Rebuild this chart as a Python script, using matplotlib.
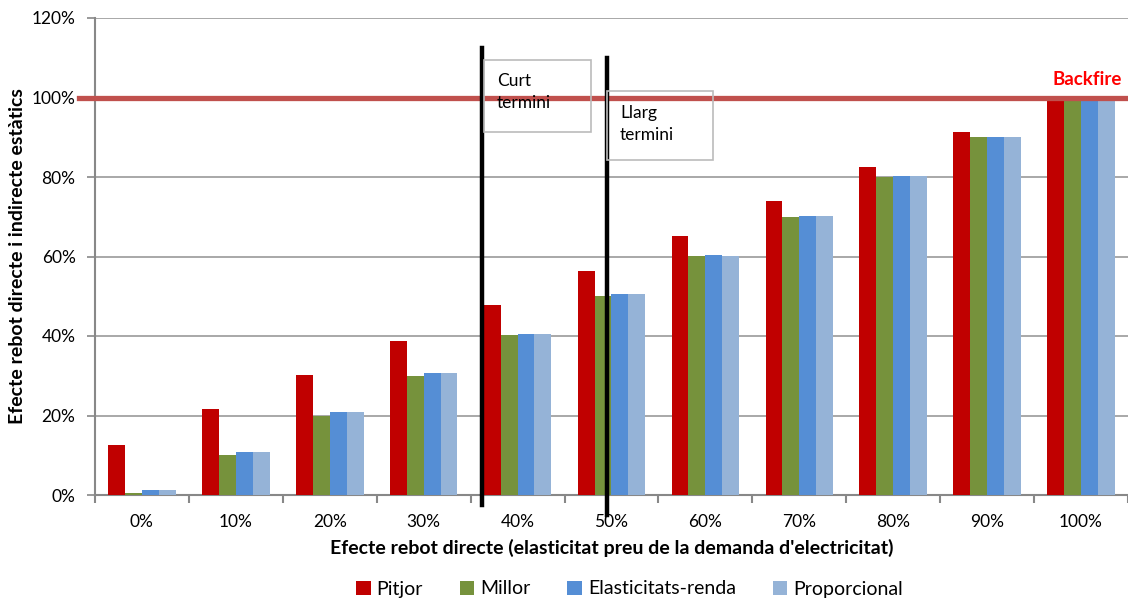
import matplotlib
matplotlib.use("Agg")
import matplotlib.pyplot as plt
from matplotlib.patches import Rectangle
import numpy as np

plt.rcParams['font.family'] = ['Lato', 'DejaVu Sans']

categories = ["0%", "10%", "20%", "30%", "40%", "50%", "60%", "70%", "80%", "90%", "100%"]
series_names = ["Pitjor", "Millor", "Elasticitats-renda", "Proporcional"]
pitjor = [12.6, 21.6, 30.2, 38.7, 47.7, 56.3, 65.2, 73.9, 82.4, 91.4, 100.0]
millor = [0.5, 10.1, 20.0, 30.0, 40.2, 50.0, 60.2, 70.0, 80.0, 90.0, 100.0]
elasticitats = [1.2, 10.9, 20.8, 30.8, 40.5, 50.5, 60.5, 70.2, 80.2, 90.0, 100.0]
proporcional = [1.2, 10.9, 20.8, 30.8, 40.5, 50.5, 60.2, 70.2, 80.2, 90.0, 100.0]
colors = ["#C00000", "#76923C", "#558ED5", "#95B3D7"]

backfire_level = 100
short_term_x = 3.62
long_term_x = 4.95

fig = plt.figure(figsize=(11.28, 6), dpi=100)
ax = fig.add_axes([0.0842, 0.175, 0.9158, 0.795])

x = np.arange(len(categories))
w = 0.18
data = [pitjor, millor, elasticitats, proporcional]
for i, (vals, c, name) in enumerate(zip(data, colors, series_names)):
    ax.bar(x + (i - 1.5) * w, vals, width=w, color=c, label=name, zorder=3)

ax.set_xlim(-0.5, len(categories) - 0.5)
ax.set_ylim(0, 120)
ax.set_yticks(np.arange(0, 121, 20))
ax.set_yticklabels([f"{v}%" for v in range(0, 121, 20)], fontsize=12.5)
ax.set_xticks(x)
ax.set_xticklabels(categories, fontsize=12.5)
ax.set_xticks(np.arange(-0.5, len(categories), 1), minor=True)
ax.tick_params(axis='x', which='major', length=0, pad=14)
ax.tick_params(axis='x', which='minor', length=6, color='#888888', width=1.5)
ax.tick_params(axis='y', length=6, color='#888888', width=1.2, pad=8)
ax.grid(axis='y', color='#999999', linewidth=1.2, zorder=0)
for s in ['top', 'right']:
    ax.spines[s].set_visible(False)
for s in ['left', 'bottom']:
    ax.spines[s].set_color('#888888')
    ax.spines[s].set_linewidth(1.5)

# Backfire line
ax.axhline(backfire_level, xmin=-0.015, xmax=1.0, color='#C0504D', linewidth=3.8, zorder=4, clip_on=False)
ax.text(len(categories) - 0.56, backfire_level + 2.3, "Backfire", color='#FF0000', fontsize=13.5,
        fontweight='bold', ha='right', va='bottom')

# vertical lines
ax.plot([short_term_x, short_term_x], [-2.6, 112.5], color='black', linewidth=3.2, zorder=5, clip_on=False)
ax.plot([long_term_x, long_term_x], [-5.1, 110], color='black', linewidth=3.2, zorder=5, clip_on=False)

# text boxes
ax.add_patch(Rectangle((3.638, 91.3), 1.139, 18.1, facecolor='none', edgecolor='#BBBBBB',
                       linewidth=1.2, zorder=6, clip_on=False))
ax.text(3.78, 106.2, "Curt\ntermini", fontsize=12.5, ha='left', va='top', linespacing=1.45, zorder=6)
ax.add_patch(Rectangle((4.947, 84.3), 1.138, 17.3, facecolor='none', edgecolor='#BBBBBB',
                       linewidth=1.2, zorder=6, clip_on=False))
ax.text(5.09, 98.0, "Llarg\ntermini", fontsize=12.5, ha='left', va='top', linespacing=1.45, zorder=6)

ax.set_xlabel("Efecte rebot directe (elasticitat preu de la demanda d'electricitat)", fontsize=14,
              fontweight='bold', labelpad=6)
ax.set_ylabel("Efecte rebot directe i indirecte estàtics", fontsize=14, fontweight='bold', labelpad=4)

leg = fig.legend(loc='lower center', bbox_to_anchor=(0.558, -0.025), ncol=4, frameon=False, fontsize=14,
                 handlelength=0.75, handleheight=0.75, handletextpad=0.3, columnspacing=1.9)

fig.savefig("out.png", dpi=100)
